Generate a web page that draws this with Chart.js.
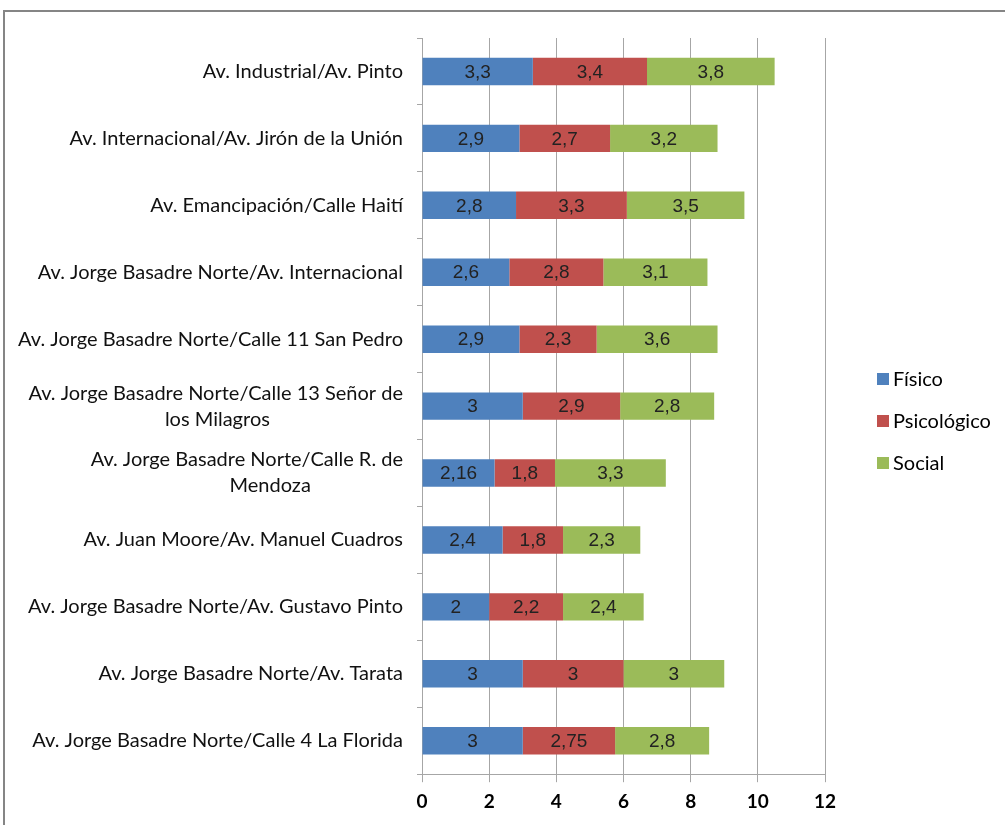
<!DOCTYPE html>
<html>
<head>
<meta charset="utf-8">
<script src="https://cdn.jsdelivr.net/npm/chart.js@4"></script>
<style>
  body { margin: 0; background: #fff; }
  #frame { position: absolute; left: 3px; top: 10px; width: 1100px; height: 900px; border: 2px solid #858585; box-sizing: border-box; }
  #wrap { position: absolute; left: 0; top: 0; width: 1005px; height: 825px; }
</style>
</head>
<body>
<div id="frame"></div>
<div id="wrap"><canvas id="myChart"></canvas></div>
<script>
// Intersections, top to bottom (trailing spaces nudge the wrapped second line)
const categories = [
    'Av. Industrial/Av. Pinto',
    'Av. Internacional/Av. Jirón de la Unión',
    'Av. Emancipación/Calle Haití',
    'Av. Jorge Basadre Norte/Av. Internacional',
    'Av. Jorge Basadre Norte/Calle 11 San Pedro',
    ['Av. Jorge Basadre Norte/Calle 13 Señor de', 'los Milagros' + ' '.repeat(26)],
    ['Av. Jorge Basadre Norte/Calle R. de', 'Mendoza' + ' '.repeat(18)],
    'Av. Juan Moore/Av. Manuel Cuadros',
    'Av. Jorge Basadre Norte/Av. Gustavo Pinto',
    'Av. Jorge Basadre Norte/Av. Tarata',
    'Av. Jorge Basadre Norte/Calle 4 La Florida'
];
const fisico      = [3.3, 2.9, 2.8, 2.6, 2.9, 3, 2.16, 2.4, 2, 3, 3];
const psicologico = [3.4, 2.7, 3.3, 2.8, 2.3, 2.9, 1.8, 1.8, 2.2, 3, 2.75];
const social      = [3.8, 3.2, 3.5, 3.1, 3.6, 2.8, 3.3, 2.3, 2.4, 3, 2.8];
const xTicks = [0, 2, 4, 6, 8, 10, 12];

const labelFont = 'Lato, "Open Sans", sans-serif';

// value labels in the middle of each segment, decimal comma
const segmentLabels = {
    id: 'segmentLabels',
    afterDatasetsDraw(chart) {
        const ctx = chart.ctx;
        ctx.save();
        ctx.font = '19px "Liberation Sans", Arial, sans-serif';
        ctx.fillStyle = '#222';
        ctx.textAlign = 'center';
        ctx.textBaseline = 'middle';
        chart.data.datasets.forEach((ds, i) => {
            chart.getDatasetMeta(i).data.forEach((bar, j) => {
                const cx = (bar.x + bar.base) / 2;
                ctx.fillText(String(ds.data[j]).replace('.', ','), cx, bar.y + 1);
            });
        });
        ctx.restore();
    }
};

// legend column to the right of the plot
const sideLegend = {
    id: 'sideLegend',
    afterDraw(chart) {
        const ctx = chart.ctx;
        const x = chart.chartArea.right + 52;
        const y0 = 379;
        const step = 42;
        ctx.save();
        ctx.font = '20px ' + labelFont;
        ctx.textBaseline = 'middle';
        ctx.textAlign = 'left';
        chart.data.datasets.forEach((ds, i) => {
            const y = y0 + i * step;
            ctx.fillStyle = ds.backgroundColor;
            ctx.fillRect(x, y - 6, 12, 12);
            ctx.fillStyle = '#000';
            ctx.fillText(ds.label, x + 16, y + 1);
        });
        ctx.restore();
    }
};

const ctx = document.getElementById('myChart').getContext('2d');
const chart = new Chart(ctx, {
    type: 'bar',
    data: {
        labels: categories,
        datasets: [{
            label: 'Físico',
            data: fisico,
            backgroundColor: '#4F81BD'
        }, {
            label: 'Psicológico',
            data: psicologico,
            backgroundColor: '#C0504D'
        }, {
            label: 'Social',
            data: social,
            backgroundColor: '#9BBB59'
        }]
    },
    plugins: [segmentLabels, sideLegend],
    options: {
        indexAxis: 'y',
        responsive: true,
        maintainAspectRatio: false,
        animation: false,
        barPercentage: 0.41,
        categoryPercentage: 1,
        layout: {
            padding: { top: 38, right: 180, bottom: 4, left: 0 }
        },
        scales: {
            x: {
                stacked: true,
                min: 0,
                max: 12,
                afterBuildTicks: (axis) => { axis.ticks = xTicks.map(v => ({ value: v })); },
                grid: { color: '#a6a6a6', lineWidth: 1, tickLength: 8 },
                border: { color: '#a6a6a6' },
                ticks: {
                    color: '#000',
                    padding: 8,
                    font: { family: labelFont, size: 19, weight: 'bold' }
                }
            },
            y: {
                stacked: true,
                afterFit: (scale) => { scale.width = 422; },
                grid: { drawOnChartArea: false, color: '#a6a6a6', tickLength: 5 },
                border: { color: '#a6a6a6' },
                ticks: {
                    color: '#111',
                    padding: 14,
                    font: { family: labelFont, size: 20, lineHeight: 1.3 }
                }
            }
        },
        plugins: {
            tooltip: { enabled: false },
            legend: { display: false }
        }
    }
});
</script>
</body>
</html>
